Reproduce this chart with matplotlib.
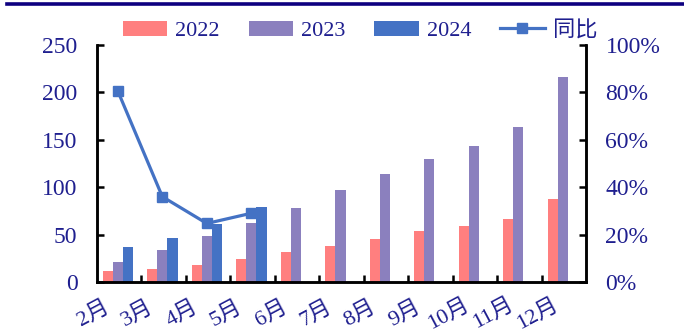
import numpy as np
import matplotlib
matplotlib.use('Agg')
import matplotlib.pyplot as plt
import matplotlib.transforms as mtransforms
from matplotlib.lines import Line2D

plt.rcParams['font.family'] = ['Liberation Serif', 'Noto Sans CJK SC']

months = ['2月', '3月', '4月', '5月', '6月', '7月', '8月', '9月', '10月', '11月', '12月']
v2022 = [12, 14, 17.5, 24, 31.5, 38, 45, 53.5, 59, 66.5, 88]
v2023 = [21, 34, 48.5, 62, 78, 97, 113.5, 130, 143.5, 164, 216]
v2024 = [37, 46, 61, 79.5]
yoy = [80.5, 36, 24.7, 29]

c22 = '#FF7F7F'
c23 = '#8B80BE'
c24 = '#4472C4'
txt = '#1F1F8F'

fig = plt.figure(figsize=(6.84, 3.36), dpi=100)
ax = fig.add_axes([97 / 684, 1 - 282 / 336, 489 / 684, 237 / 336])
ax2 = ax.twinx()

x = np.arange(len(months))
w = 0.23
ax.bar(x - 0.25, v2022, w, color=c22, label='2022', zorder=2)
ax.bar(x - 0.025, v2023, w, color=c23, label='2023', zorder=2)
ax.bar(x[:len(v2024)] + 0.20, v2024, w, color=c24, label='2024', zorder=2)
ax2.plot(x[:len(yoy)] - 0.03, yoy, color=c24, lw=2.3, marker='s', ms=6.5, label='同比', zorder=3)

ax.set_xlim(-0.5, len(months) - 0.5)
ax.set_ylim(0, 250)
ax2.set_ylim(0, 100)
ax.set_yticks(np.arange(0, 251, 50))
ax2.set_yticks(np.arange(0, 101, 20))
ax2.set_yticklabels([f'{v}%' for v in range(0, 101, 20)])

ax.set_xticks(x)
ax.set_xticklabels(months, rotation=28, ha='center', va='center', rotation_mode='anchor')
ax.set_xticks(np.arange(0.5, len(months) - 1, 1), minor=True)
ax.tick_params(axis='x', which='major', length=0, pad=0, labelsize=16, labelcolor=txt)
ax.tick_params(axis='x', which='minor', direction='in', length=5, width=1.8)
ax.tick_params(axis='y', direction='in', length=5, width=1.8, labelsize=17, labelcolor=txt, pad=14)
ax2.tick_params(axis='y', direction='in', length=5, width=1.8, labelsize=17, labelcolor=txt, pad=14)

# month labels sit left of and below the category centre
shift = mtransforms.ScaledTranslation(-26 / 100, -32 / 100, fig.dpi_scale_trans)
for lab in ax.get_xticklabels():
    lab.set_transform(lab.get_transform() + shift)

for a in (ax, ax2):
    a.spines['top'].set_visible(False)
    for s in ('left', 'right', 'bottom'):
        a.spines[s].set_linewidth(1.8)
        a.spines[s].set_color('black')

h1, l1 = ax.get_legend_handles_labels()
h2, l2 = ax2.get_legend_handles_labels()
fig.legend(h1 + h2, l1 + l2, ncol=4, loc='center', bbox_to_anchor=(360 / 684, 1 - 31 / 336),
           frameon=False, fontsize=16, labelcolor=txt, handlelength=2.0, handleheight=0.68,
           columnspacing=1.3, handletextpad=0.36, borderpad=0)

fig.add_artist(Line2D([7 / 684, 1], [1 - 4 / 336, 1 - 4 / 336], color='#0D0080', lw=2.6))

fig.savefig('out.png', dpi=100)
